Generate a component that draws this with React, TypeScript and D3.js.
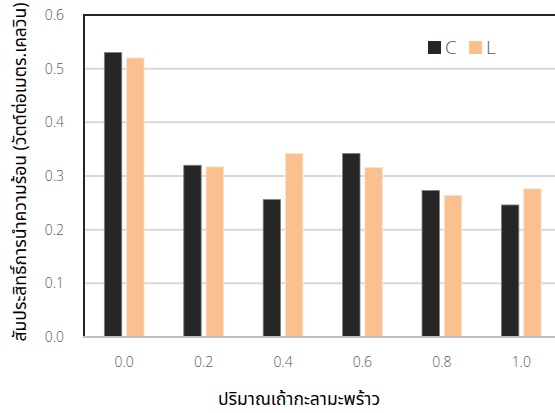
import React from "react";
import * as d3 from "d3";

// Coconut-ash content (x categories)
const categories = ["0.0", "0.2", "0.4", "0.6", "0.8", "1.0"];
// Thermal conductivity, W/m.K
const seriesC = [0.53, 0.32, 0.256, 0.342, 0.273, 0.246];
const seriesL = [0.52, 0.317, 0.342, 0.316, 0.264, 0.276];
const seriesNames = ["C", "L"];
const yTicks = [0, 0.1, 0.2, 0.3, 0.4, 0.5, 0.6];

const W = 555;
const H = 413;
const FONT = "'Noto Sans', 'Noto Sans Thai', 'DejaVu Sans', sans-serif";
const TICK_FONT = "'Open Sans', 'Noto Sans', sans-serif";
const TEXT = "#595959";
const COLORS: Record<string, string> = { C: "#262626", L: "#FAC090" };

export default function App() {
  const left = 84.5;
  const right = 561;
  const top = 15;
  const bottom = 337;

  const x = d3.scaleBand<string>().domain(categories).range([left, right]).paddingInner(0.5).paddingOuter(0.25);
  const xs = d3.scaleBand<string>().domain(seriesNames).range([0, x.bandwidth()]).paddingInner(0.22);
  const y = d3.scaleLinear().domain([0, 0.6]).range([bottom, top]);

  const data = [seriesC, seriesL];

  return (
    <svg
      width={W}
      height={H}
      style={{ position: "absolute", left: 0, top: 0, background: "#fff" }}
      fontFamily={FONT}
    >
      {/* gridlines */}
      {yTicks.slice(1, -1).map((t) => (
        <line key={t} x1={left} x2={W} y1={y(t)} y2={y(t)} stroke="#d9d9d9" strokeWidth={2} />
      ))}
      {/* bars */}
      {categories.map((c, i) =>
        seriesNames.map((s, j) => {
          const v = data[j][i];
          const bx = (x(c) as number) + (xs(s) as number);
          return (
            <rect
              key={c + s}
              x={bx}
              y={y(v)}
              width={xs.bandwidth()}
              height={bottom - y(v)}
              fill={COLORS[s]}
              stroke={s === "C" ? "#7f7f7f" : "#fde3cc"}
              strokeWidth={0.8}
            />
          );
        })
      )}
      {/* frame */}
      <line x1={left - 0.5} x2={left - 0.5} y1={top - 1} y2={bottom + 1} stroke="#262626" strokeWidth={2} />
      <line x1={left - 1.5} x2={W} y1={top} y2={top} stroke="#262626" strokeWidth={2} />
      <line x1={left - 1.5} x2={W} y1={bottom} y2={bottom} stroke="#bfbfbf" strokeWidth={2} />
      {/* y tick labels */}
      {yTicks.map((t) => (
        <text
          key={t}
          x={64}
          y={y(t)}
          dy="0.35em"
          textAnchor="end"
          fontSize={14}
          fontFamily={TICK_FONT}
          fontWeight={300}
          fill={TEXT}
        >
          {t.toFixed(1)}
        </text>
      ))}
      {/* x tick labels */}
      {categories.map((c) => (
        <text
          key={c}
          x={(x(c) as number) + x.bandwidth() / 2}
          y={362}
          dy="0.35em"
          textAnchor="middle"
          fontSize={14}
          fontFamily={TICK_FONT}
          fontWeight={300}
          fill={TEXT}
        >
          {c}
        </text>
      ))}
      {/* axis titles */}
      <text x={299} y={399} dy="0.35em" textAnchor="middle" fontSize={17.5} fill="#000">
        ปริมาณเถ้ากะลามะพร้าว
      </text>
      <text
        transform={`translate(20,172) rotate(-90)`}
        dy="0.35em"
        textAnchor="middle"
        fontSize={17.5}
        fill="#000"
      >
        สัมประสิทธิ์การนำความร้อน (วัตต์ต่อเมตร.เคลวิน)
      </text>
      {/* legend */}
      {seriesNames.map((s, i) => (
        <g key={s} transform={`translate(${428 + i * 41},41)`}>
          <rect width={13} height={13} fill={COLORS[s]} />
          <text x={17} y={6.5} dy="0.36em" fontSize={19} fontFamily={TICK_FONT} fontWeight={300} fill={TEXT}>
            {s}
          </text>
        </g>
      ))}
    </svg>
  );
}
